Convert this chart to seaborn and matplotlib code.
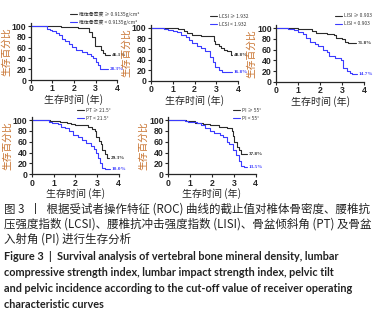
import numpy as np
import pandas as pd
import seaborn as sns
import matplotlib.pyplot as plt

# survival curves (time in years, survival %)
bmd_hi_t = [0, 1.4, 2.2, 2.5, 2.7, 2.85, 2.95, 3.25, 3.35, 3.45, 3.65]
bmd_hi_s = [100, 98, 97, 96, 88, 80, 63, 55, 50, 46.1, 46.1]
bmd_lo_t = [0, 0.75, 0.9, 1.0, 1.15, 1.3, 1.45, 1.6, 1.75, 1.9, 2.1, 2.35, 2.6, 2.8, 2.9, 3.0, 3.1, 3.2, 3.55]
bmd_lo_s = [100, 95, 93, 90, 87, 83, 76, 72, 67, 62, 56, 52, 49, 44, 40, 34, 28, 20, 20]

lcsi_hi_t = [0, 1.25, 1.5, 1.65, 1.9, 2.3, 2.9, 2.95, 3.1, 3.2, 3.35, 3.5, 3.65, 3.72]
lcsi_hi_s = [100, 97, 93, 90, 87, 84, 75, 70, 65, 62, 58, 56, 49, 49]
lcsi_lo_t = [0, 0.6, 0.8, 1.0, 1.2, 1.4, 1.6, 1.75, 1.9, 2.1, 2.3, 2.5, 2.7, 2.85, 2.95, 3.1, 3.25, 3.4, 3.72]
lcsi_lo_s = [100, 98, 96, 94, 91, 87, 82, 77, 72, 66, 62, 56, 45, 36, 26, 20, 17, 16.8, 16.8]

lisi_hi_t = [0, 1.0, 1.3, 1.6, 1.8, 2.3, 2.6, 2.7, 3.0, 3.1, 3.25, 3.62]
lisi_hi_s = [100, 99, 98, 95, 92, 90, 87, 82, 80, 75, 71.8, 71.8]
lisi_lo_t = [0, 0.55, 0.8, 1.0, 1.2, 1.35, 1.55, 1.75, 1.9, 2.1, 2.3, 2.4, 2.65, 2.95, 3.05, 3.2, 3.35, 3.45, 3.65]
lisi_lo_s = [100, 98, 96, 93, 90, 82, 75, 70, 66, 60, 55, 48, 45, 40, 25, 20, 16, 14.7, 14.7]

pt_hi_t = [0, 0.85, 1.0, 1.3, 1.6, 1.8, 2.0, 2.6, 2.75, 2.9, 2.95, 3.1, 3.2, 3.25, 3.35, 3.45, 3.55]
pt_hi_s = [100, 99, 98, 97, 95, 92, 90, 88, 83, 80, 68, 62, 55, 45, 38, 29.3, 29.3]
pt_lo_t = [0, 0.8, 0.9, 1.2, 1.35, 1.5, 1.7, 1.9, 2.1, 2.3, 2.5, 2.7, 2.85, 2.95, 3.05, 3.15, 3.25, 3.35, 3.6]
pt_lo_s = [100, 97, 95, 93, 88, 85, 80, 73, 68, 63, 58, 53, 47, 40, 30, 20, 12, 10, 10]

pi_hi_t = [0, 0.8, 1.0, 1.2, 1.6, 1.9, 2.3, 2.7, 2.9, 2.95, 3.0, 3.15, 3.25, 3.35, 3.6]
pi_hi_s = [100, 99, 98, 95, 92, 90, 87, 85, 80, 70, 60, 50, 45, 37.8, 37.8]
pi_lo_t = [0, 0.75, 0.9, 1.3, 1.5, 1.7, 1.9, 2.1, 2.35, 2.5, 2.7, 2.8, 2.95, 3.1, 3.25, 3.35, 3.45, 3.6]
pi_lo_s = [100, 99, 97, 95, 90, 85, 80, 76, 72, 68, 60, 55, 45, 35, 25, 15, 13.5, 13.5]

legend_hi = ["椎体骨密度 ≥ 0.9135g/cm²", "LCSI ≥ 1.932", "LISI ≥ 0.903", "PT ≥ 21.5°", "PI ≥ 55°"]
legend_lo = ["椎体骨密度 < 0.9135g/cm²", "LCSI < 1.932", "LISI < 0.903", "PT < 21.5°", "PI < 55°"]
end_hi = ["46.1%", "48.8%", "71.8%", "29.3%", "37.8%"]
end_lo = ["28.3%", "16.8%", "14.7%", "10.0%", "13.5%"]

caption_cn = ["图 3  丨  根据受试者操作特征 (ROC) 曲线的截止值对椎体骨密度、腰椎抗",
              "压强度指数 (LCSI)、腰椎抗冲击强度指数 (LISI)、骨盆倾斜角 (PT) 及骨盆",
              "入射角 (PI) 进行生存分析"]
caption_en = ["Figure 3  |  Survival analysis of vertebral bone mineral density, lumbar",
              "compressive strength index, lumbar impact strength index, pelvic tilt",
              "and pelvic incidence according to the cut-off value of receiver operating",
              "characteristic curves"]

sns.set_style("ticks")
CJK = ["Noto Sans CJK SC", "DejaVu Sans"]
plt.rcParams["font.family"] = CJK

W, H = 382, 316
BLACK = "#2b2b2b"
BLUE = "#3b3bff"
ORANGE = "#c8722e"

fig = plt.figure(figsize=(W / 100, H / 100), dpi=100)


def px_axes(left, right, y0, y100):
    # y0/y100: pixel rows of 0% and 100%; ylim goes to 106
    top = y100 - (y0 - y100) * 0.06
    return fig.add_axes([left / W, 1 - y0 / H, (right - left) / W, (y0 - top) / H])


panels = [
    (30.7, 117.3, 80, 26, (bmd_hi_t, bmd_hi_s), (bmd_lo_t, bmd_lo_s), (70, 14)),
    (150.7, 238.3, 81, 27.7, (lcsi_hi_t, lcsi_hi_s), (lcsi_lo_t, lcsi_lo_s), (210, 16)),
    (276.3, 364.3, 81.7, 28.3, (lisi_hi_t, lisi_hi_s), (lisi_lo_t, lisi_lo_s), (335, 15.5)),
    (32, 118.7, 174.3, 120, (pt_hi_t, pt_hi_s), (pt_lo_t, pt_lo_s), (77, 110)),
    (168.3, 255.7, 174.3, 120, (pi_hi_t, pi_hi_s), (pi_lo_t, pi_lo_s), (233, 110)),
]

for i, (l, r, y0, y100, hi, lo, leg) in enumerate(panels):
    ax = px_axes(l, r, y0, y100)
    sns.lineplot(x=hi[0], y=hi[1], drawstyle="steps-post", color=BLACK, lw=0.8, ax=ax)
    sns.lineplot(x=lo[0], y=lo[1], drawstyle="steps-post", color=BLUE, lw=0.8, ax=ax)
    ax.set_xlim(0, 4)
    ax.set_ylim(0, 106)
    ax.set_xticks([0, 1, 2, 3, 4])
    ax.set_yticks([0, 20, 40, 60, 80, 100])
    ax.tick_params(length=2, width=0.8, pad=1.2, labelsize=6.3)
    for lab in ax.get_xticklabels() + ax.get_yticklabels():
        lab.set_family("Liberation Sans")
        lab.set_fontweight("bold")
    for s in ["left", "bottom"]:
        ax.spines[s].set_linewidth(0.9)
    sns.despine(ax=ax)
    ax.set_xlabel("生存时间 (年)", fontsize=7.2, labelpad=0.5)
    ax.set_ylabel("生存百分比", fontsize=7, color=ORANGE, labelpad=0.5)
    ax.text(hi[0][-1] + 0.08, hi[1][-1], end_hi[i], fontsize=3.8, color=BLACK,
            va="center", fontweight="bold", family="Liberation Serif")
    ax.text(lo[0][-1] + 0.08, lo[1][-1], end_lo[i], fontsize=3.8, color=BLUE,
            va="center", fontweight="bold", family="Liberation Serif")
    # legend
    lx, ly = leg
    for j, (txt, c) in enumerate([(legend_hi[i], BLACK), (legend_lo[i], BLUE)]):
        yy = ly + j * 8
        fig.add_artist(plt.Line2D([lx / W, (lx + 7) / W], [1 - yy / H, 1 - yy / H],
                                  color=c, lw=0.8))
        fig.text((lx + 9) / W, 1 - yy / H, txt, fontsize=3.5, va="center", color="#333333")

for k, line in enumerate(caption_cn):
    fig.text(4 / W, 1 - (209 + k * 15) / H, line, fontsize=8.25, va="center", color="#222222")
for k, line in enumerate(caption_en):
    fig.text(4 / W, 1 - (257 + k * 15.7) / H, line, fontsize=7.85, va="center",
             fontweight="bold", family="Lato", color="#222222")

fig.savefig("out.png", dpi=100)
